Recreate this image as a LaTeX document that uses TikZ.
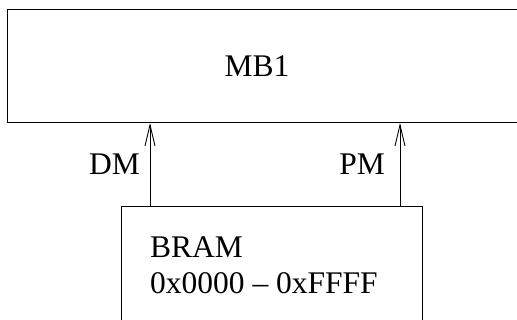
\documentclass[tikz,border=0pt]{standalone}
\usepackage{fontspec}
\setmainfont{Liberation Serif}
\usetikzlibrary{arrows.meta}
\begin{document}
\begin{tikzpicture}[x=1pt,y=-1pt,
  box/.style={draw,line width=1pt,inner sep=0pt,anchor=north west},
  lbl/.style={inner sep=0pt,font=\fontsize{31.5}{36}\selectfont},
  arr/.style={line width=1pt,-{Straight Barb[length=21pt,width=10pt,line width=0.9pt]}}]
\useasboundingbox (0,0) rectangle (517,320);
\node[box,minimum width=530pt,minimum height=113pt] (mb1) at (7,9) {};
\node[lbl,anchor=base] (mb1t) at (257,77) {MB1};
\node[box,minimum width=301pt,minimum height=140pt] (bram) at (121,206) {};
\node[lbl,anchor=base west] (bram1) at (150,258) {BRAM};
\node[lbl,anchor=base west] (bram2) at (150,294) {0x0000 -- 0xFFFF};
\coordinate (xd) at (150,0);
\coordinate (xp) at (400,0);
\draw[arr] (xd |- bram.north) -- (xd |- mb1.south);
\draw[arr] (xp |- bram.north) -- (xp |- mb1.south);
\node[lbl,anchor=base east] (dm) at (140,175) {DM};
\node[lbl,anchor=base east] (pm) at (385,175) {PM};
\end{tikzpicture}
\end{document}
